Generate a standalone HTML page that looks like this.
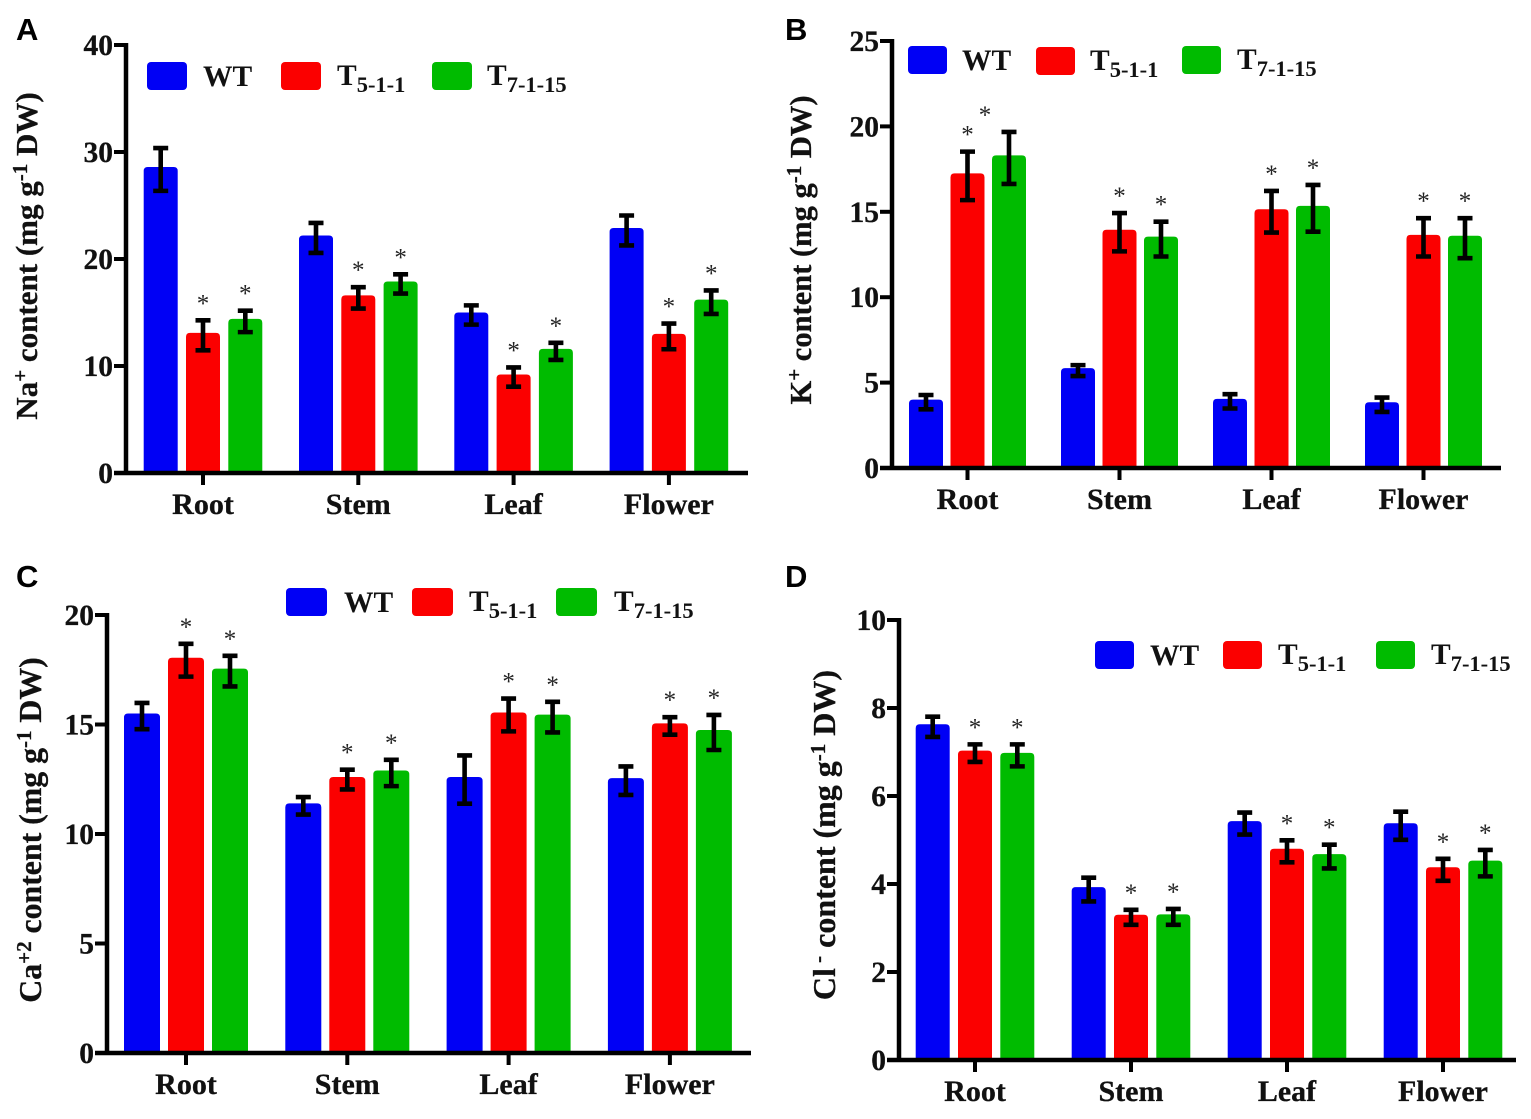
<!DOCTYPE html>
<html>
<head>
<meta charset="utf-8">
<title>Ion content panels</title>
<style>
html,body{margin:0;padding:0;background:#fff;}
svg{display:block;}
text{font-family:"Liberation Serif",serif;font-weight:bold;fill:#111;}
.letter{font-family:"Liberation Sans",sans-serif;font-size:31px;fill:#000;}
</style>
</head>
<body>
<svg id="figure" width="1531" height="1119" viewBox="0 0 1531 1119" xmlns="http://www.w3.org/2000/svg"></svg>
<script>
// ---- chart data ----
const categories = ["Root", "Stem", "Leaf", "Flower"];
const seriesNames = ["WT", "T5-1-1", "T7-1-15"];

const naTicks = [0, 10, 20, 30, 40];
const naWT = [28.6, 22.2, 15.0, 22.9];
const naWTErr = [2.0, 1.4, 0.9, 1.4];
const naT5 = [13.1, 16.6, 9.2, 13.0];
const naT5Err = [1.4, 1.0, 0.9, 1.2];
const naT7 = [14.4, 17.9, 11.6, 16.2];
const naT7Err = [1.0, 0.9, 0.8, 1.1];

const kTicks = [0, 5, 10, 15, 20, 25];
const kWT = [4.0, 5.85, 4.05, 3.85];
const kWTErr = [0.42, 0.32, 0.42, 0.42];
const kT5 = [17.25, 13.95, 15.15, 13.65];
const kT5Err = [1.42, 1.12, 1.22, 1.12];
const kT7 = [18.3, 13.55, 15.35, 13.6];
const kT7Err = [1.52, 1.02, 1.37, 1.17];

const caTicks = [0, 5, 10, 15, 20];
const caWT = [15.5, 11.4, 12.6, 12.55];
const caWTErr = [0.6, 0.4, 1.1, 0.65];
const caT5 = [18.05, 12.6, 15.55, 15.05];
const caT5Err = [0.75, 0.45, 0.75, 0.4];
const caT7 = [17.55, 12.9, 15.45, 14.75];
const caT7Err = [0.7, 0.6, 0.7, 0.8];

const clTicks = [0, 2, 4, 6, 8, 10];
const clWT = [7.63, 3.93, 5.43, 5.38];
const clWTErr = [0.23, 0.27, 0.25, 0.32];
const clT5 = [7.03, 3.3, 4.8, 4.38];
const clT5Err = [0.2, 0.17, 0.25, 0.25];
const clT7 = [6.98, 3.31, 4.68, 4.53];
const clT7Err = [0.25, 0.18, 0.27, 0.3];

// ---- drawing ----
const NS = "http://www.w3.org/2000/svg";
const fig = document.getElementById("figure");
const colors = ["#0000f5", "#fb0000", "#00bb00"];

function mk(parent, tag, attrs) {
  const el = document.createElementNS(NS, tag);
  for (const k in attrs) el.setAttribute(k, attrs[k]);
  parent.appendChild(el);
  return el;
}

function drawPanel(cfg, values, errors, ticks) {
  const g = mk(fig, "g", {});
  
  

  const maxV = ticks[ticks.length - 1];
  const y = v => cfg.y0 - (v / maxV) * (cfg.y0 - cfg.yTop);
  const cx = i => cfg.first + i * cfg.step;

  // panel letter
  const letter = mk(g, "text", {x: cfg.letterX, y: cfg.letterY, "class": "letter"});
  letter.textContent = cfg.letter;
  
  

  // bars and error bars
  values.forEach((series, s) => {
    series.forEach((v, i) => {
      const x = cx(i) + (s - 1) * cfg.off;
      const bar = mk(g, "path", {
        d: `M${x - cfg.bw / 2} ${cfg.y0}V${y(v) + 4}q0 -4 4 -4H${x + cfg.bw / 2 - 4}q4 0 4 4V${cfg.y0}Z`,
        fill: colors[s]
      });
      
      

      const e = errors[s][i];
      const top = y(v + e) + 2.5;
      const bottom = y(v - e) + 2.5;
      const eb = mk(g, "path", {
        d: `M${x} ${top}V${bottom}M${x - 7.5} ${top}H${x + 7.5}M${x - 7.5} ${bottom}H${x + 7.5}`,
        stroke: "#000", "stroke-width": 4.6, fill: "none"
      });
      
      

      if (s > 0) {
        const displaced = cfg.id === "b" && s === 2 && i === 0;
        const star = mk(g, "text", {
          x: displaced ? x - 24 : x, y: top - 9, "text-anchor": "middle",
          style: "font-size:25px;font-weight:normal;fill:#222"
        });
        star.textContent = "*";
        
        
      }
    });
  });

  // axes
  const yAxis = mk(g, "path", {
    d: `M${cfg.x0} ${cfg.y0 + 2}V${cfg.yTop - 2}`, stroke: "#000", "stroke-width": 4.5, fill: "none"
  });
  
  
  const xAxis = mk(g, "path", {
    d: `M${cfg.x0 - 12} ${cfg.y0}H${cfg.xEnd}`, stroke: "#000", "stroke-width": 4.5, fill: "none"
  });
  
  

  ticks.forEach(t => {
    const tick = mk(g, "path", {
      d: `M${cfg.x0 - 12} ${y(t)}H${cfg.x0}`, stroke: "#000", "stroke-width": 4, fill: "none"
    });
    
    
    const lab = mk(g, "text", {
      x: cfg.x0 - 13, y: y(t) + 10, "text-anchor": "end",
      style: "font-size:29.5px;stroke:#111;stroke-width:.3px"
    });
    lab.textContent = t;
    
    
  });

  categories.forEach((c, i) => {
    const tick = mk(g, "path", {
      d: `M${cx(i)} ${cfg.y0}V${cfg.y0 + 12}`, stroke: "#000", "stroke-width": 4, fill: "none"
    });
    
    
    const lab = mk(g, "text", {
      x: cx(i), y: cfg.y0 + 41, "text-anchor": "middle",
      style: "font-size:30px;stroke:#111;stroke-width:.3px"
    });
    lab.textContent = c;
    
    
  });

  // y-axis title
  const title = mk(g, "text", {
    transform: `translate(${cfg.titleX} ${cfg.titleY}) rotate(-90)`,
    "text-anchor": "middle",
    style: `font-size:${cfg.titleSize}px;stroke:#111;stroke-width:.3px`
  });
  
  
  cfg.title.forEach(part => {
    const sp = mk(title, "tspan", {});
    if (part[1] === "sup") {
      sp.setAttribute("dy", "-10");
      sp.setAttribute("style", "font-size:21px");
    } else if (part[2]) {
      sp.setAttribute("dy", part[2]);
    }
    sp.textContent = part[0];
  });

  // legend
  cfg.legend.forEach((lx, s) => {
    const entry = mk(g, "g", {});
    
    
    mk(entry, "rect", {
      x: lx[0], y: cfg.legY + lx[2], width: cfg.swW, height: 28, rx: 4, fill: colors[s]
    });
    const t = mk(entry, "text", {x: lx[1], y: cfg.legY + lx[2] + 24 - (s ? 1 : 0), style: "font-size:29.5px"});
    const name = seriesNames[s];
    if (s === 0) {
      t.textContent = name;
    } else {
      const a = mk(t, "tspan", {});
      a.textContent = "T";
      const b = mk(t, "tspan", {dy: "7", style: "font-size:22.5px"});
      b.textContent = name.slice(1);
    }
  });
}

drawPanel({
  id: "a", letter: "A", letterX: 16, letterY: 40,
  x0: 126, xEnd: 748, y0: 473, yTop: 45, first: 203, step: 155.3, off: 42.3, bw: 34,
  titleX: 37, titleY: 256, titleSize: 31, swW: 40, legY: 62,
  legend: [[147, 203, 0], [281, 337, 0], [432, 487, 0]],
  title: [["Na"], ["+", "sup"], [" content (mg g", null, "10"], ["-1", "sup"], [" DW)", null, "10"]]
}, [naWT, naT5, naT7], [naWTErr, naT5Err, naT7Err], naTicks);

drawPanel({
  id: "b", letter: "B", letterX: 785, letterY: 40,
  x0: 892, xEnd: 1501, y0: 468, yTop: 41, first: 967.5, step: 152, off: 41.5, bw: 34,
  titleX: 811, titleY: 250, titleSize: 30.5, swW: 39, legY: 46,
  legend: [[908, 962, 0], [1036, 1090, 1], [1182, 1237, 0]],
  title: [["K"], ["+", "sup"], [" content (mg g", null, "10"], ["-1", "sup"], [" DW)", null, "10"]]
}, [kWT, kT5, kT7], [kWTErr, kT5Err, kT7Err], kTicks);

drawPanel({
  id: "c", letter: "C", letterX: 16, letterY: 587,
  x0: 107, xEnd: 751, y0: 1053, yTop: 615, first: 186, step: 161.3, off: 44, bw: 36,
  titleX: 41, titleY: 830, titleSize: 31.8, swW: 41, legY: 588,
  legend: [[286, 344, 0], [412, 469, 0], [556, 614, 0]],
  title: [["Ca"], ["+2", "sup"], [" content (mg g", null, "10"], ["-1", "sup"], [" DW)", null, "10"]]
}, [caWT, caT5, caT7], [caWTErr, caT5Err, caT7Err], caTicks);

drawPanel({
  id: "d", letter: "D", letterX: 785, letterY: 587,
  x0: 899, xEnd: 1516, y0: 1060, yTop: 620, first: 975, step: 156, off: 42.3, bw: 34,
  titleX: 835, titleY: 835, titleSize: 32, swW: 39, legY: 641,
  legend: [[1095, 1150, 0], [1223, 1278, 0], [1376, 1431, 0]],
  title: [["Cl"], [" -", "sup"], [" content (mg g", null, "10"], ["-1", "sup"], [" DW)", null, "10"]]
}, [clWT, clT5, clT7], [clWTErr, clT5Err, clT7Err], clTicks);
</script>
</body>
</html>
